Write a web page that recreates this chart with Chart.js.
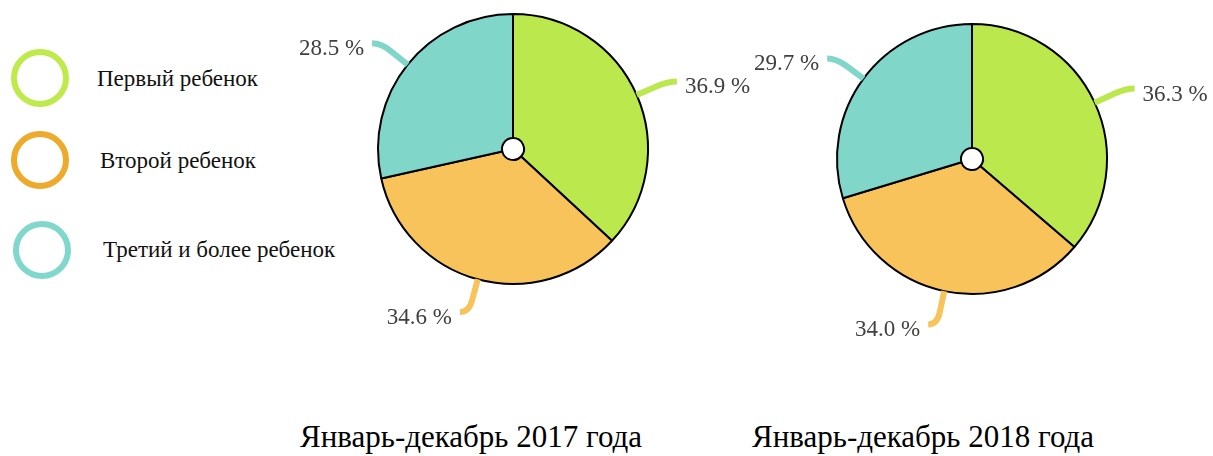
<!DOCTYPE html>
<html>
<head>
<meta charset="utf-8">
<script src="https://cdn.jsdelivr.net/npm/chart.js@4"></script>
<style>
  body { margin: 0; background: #fff; width: 1213px; height: 456px; position: relative; overflow: hidden; font-family: "Liberation Serif", "Times New Roman", serif; }
  .box { position: absolute; }
  .ring { position: absolute; width: 46px; height: 46px; border-radius: 50%; border: 6px solid; }
  .lbl { position: absolute; font-size: 23px; color: #111; line-height: 1; transform: translateY(-50%); white-space: nowrap; }
  .title { position: absolute; font-size: 31px; color: #000; top: 419px; white-space: nowrap; }
</style>
</head>
<body>
<div class="ring" style="left:11px;top:49px;border-color:#bfea4b"></div>
<div class="lbl" style="left:97px;top:78px">Первый ребенок</div>
<div class="ring" style="left:11px;top:131px;border-color:#eeaa2a"></div>
<div class="lbl" style="left:100px;top:160px">Второй ребенок</div>
<div class="ring" style="left:13px;top:221px;border-color:#80d8cc"></div>
<div class="lbl" style="left:103px;top:249px">Третий и более ребенок</div>

<div class="box" style="left:273px;top:0;width:480px;height:340px"><canvas id="c1"></canvas></div>
<div class="box" style="left:732px;top:0;width:481px;height:350px"><canvas id="c2"></canvas></div>

<div class="title" style="left:300px">Январь-декабрь 2017 года</div>
<div class="title" style="left:752px">Январь-декабрь 2018 года</div>

<script>
const categories = ['Первый ребенок', 'Второй ребенок', 'Третий и более ребенок'];
const values2017 = [36.9, 34.6, 28.5];
const values2018 = [36.3, 34.0, 29.7];
const sliceColors = ['#bbe84c', '#f8c35a', '#7fd6c9'];

// leader lines + percent labels around the pie
const leaderPlugin = {
  id: 'leaders',
  afterDatasetsDraw(chart) {
    const ctx = chart.ctx;
    const meta = chart.getDatasetMeta(0);
    const data = chart.data.datasets[0].data;
    meta.data.forEach((arc, i) => {
      const mid = (arc.startAngle + arc.endAngle) / 2;
      const r = arc.outerRadius;
      const cx = arc.x, cy = arc.y;
      const dx = Math.cos(mid), dy = Math.sin(mid);
      const dir = dx >= 0 ? 1 : -1;
      const p0 = [cx + dx * r, cy + dy * r];
      const pa = [cx + dx * (r + 22), cy + dy * (r + 22)];
      const p1 = [cx + dx * (r + 34), cy + dy * (r + 34)];
      const p2 = [p1[0] + dir * 9, p1[1]];
      ctx.save();
      ctx.strokeStyle = sliceColors[i];
      ctx.lineWidth = 6;
      ctx.beginPath();
      ctx.moveTo(p0[0], p0[1]);
      ctx.lineTo(pa[0], pa[1]);
      ctx.quadraticCurveTo(p1[0], p1[1], p2[0], p2[1]);
      ctx.stroke();
      ctx.fillStyle = '#404040';
      ctx.font = '23px "Liberation Serif", serif';
      ctx.textAlign = dir > 0 ? 'left' : 'right';
      ctx.textBaseline = 'middle';
      ctx.fillText(data[i].toFixed(1) + ' %', p2[0] + dir * 8, p2[1] + 6);
      ctx.restore();
    });
  }
};

function makePie(id, values, padding) {
  return new Chart(document.getElementById(id), {
    type: 'doughnut',
    data: {
      labels: categories,
      datasets: [{
        data: values,
        backgroundColor: sliceColors,
        borderColor: '#000',
        borderWidth: 2
      }]
    },
    options: {
      responsive: true,
      maintainAspectRatio: false,
      animation: false,
      cutout: 11,
      layout: { padding: padding },
      plugins: { legend: { display: false }, tooltip: { enabled: false } }
    },
    plugins: [leaderPlugin]
  });
}

makePie('c1', values2017, { top: 13, bottom: 55, left: 104, right: 104 });
makePie('c2', values2018, { top: 23, bottom: 55, left: 104, right: 105 });
</script>
</body>
</html>
